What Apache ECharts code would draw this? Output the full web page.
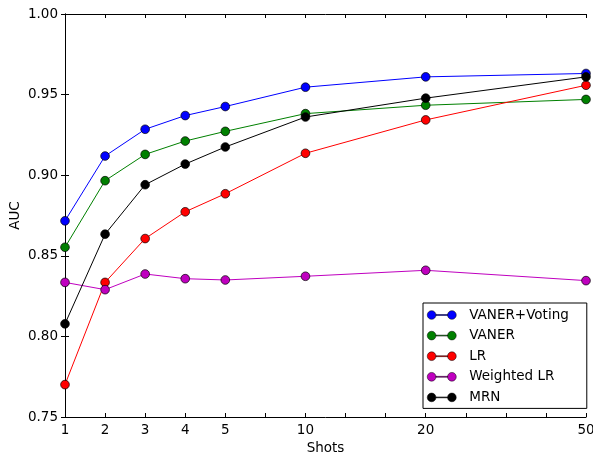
<!DOCTYPE html>
<html>
<head>
<meta charset="utf-8">
<script src="https://cdn.jsdelivr.net/npm/echarts@6/dist/echarts.min.js"></script>
<style>html,body{margin:0;padding:0;background:#fff}#c{width:593px;height:454px}</style>
</head>
<body>
<div id="c"></div>
<script>
// x tick labels (evenly spaced ticks; blanks are unlabeled ticks)
var xTickLabels = ['1','2','3','4','5','','10','','','20','','','','50'];
var shots = ['1','2','3','4','5','10','20','50'];
var yTicks = [0.75, 0.80, 0.85, 0.90, 0.95, 1.00];

var vanerVoting = [0.8717, 0.9119, 0.9285, 0.9370, 0.9426, 0.9546, 0.9610, 0.9631];
var vaner       = [0.8553, 0.8966, 0.9129, 0.9212, 0.9272, 0.9382, 0.9434, 0.9470];
var lr          = [0.7701, 0.8335, 0.8607, 0.8773, 0.8885, 0.9136, 0.9343, 0.9558];
var weightedLr  = [0.8335, 0.8290, 0.8387, 0.8358, 0.8350, 0.8373, 0.8410, 0.8346];
var mrn         = [0.8078, 0.8634, 0.8941, 0.9069, 0.9175, 0.9361, 0.9478, 0.9610];

var seriesDefs = [
  {name: 'VANER+Voting', data: vanerVoting, color: '#0000ff'},
  {name: 'VANER', data: vaner, color: '#008000'},
  {name: 'LR', data: lr, color: '#ff0000'},
  {name: 'Weighted LR', data: weightedLr, color: '#bf00bf'},
  {name: 'MRN', data: mrn, color: '#000000'}
];

function toPoints(vals) {
  return shots.map(function (s, i) { return [xTickLabels.indexOf(s), vals[i]]; });
}

var FONT = 'DejaVu Sans';
var iconPath = 'path://M0,4.35A4.35,4.35,0,1,1,8.7,4.35A4.35,4.35,0,1,1,0,4.35Z' +
  'M20.3,4.35A4.35,4.35,0,1,1,29,4.35A4.35,4.35,0,1,1,20.3,4.35Z' +
  'M8.7,3.9L20.3,3.9L20.3,4.8L8.7,4.8Z';

var chart = echarts.init(document.getElementById('c'), null, {renderer: 'canvas'});
var axisLine = {show: true, lineStyle: {color: '#000', width: 1}};
var tick = {show: true, inside: true, length: 4, lineStyle: {color: '#000', width: 1}};

chart.setOption({
  animation: false,
  backgroundColor: '#fff',
  textStyle: {fontFamily: FONT},
  grid: {left: 65, right: 7, top: 14, bottom: 37, containLabel: false, outerBoundsMode: 'none'},
  legend: {
    orient: 'vertical',
    left: 423,
    top: 303,
    padding: [5, 18, 4, 4],
    itemGap: 6.6,
    itemWidth: 29,
    itemHeight: 8.7,
    icon: iconPath,
    borderColor: '#000',
    borderWidth: 1,
    backgroundColor: '#fff',
    itemStyle: {borderColor: '#000', borderWidth: 0.5},
    textStyle: {fontFamily: FONT, fontSize: 13.5, color: '#000', lineHeight: 14, padding: [0, 0, 0, 8]},
    data: seriesDefs.map(function (d) { return d.name; })
  },
  xAxis: [{
    type: 'value', min: 0, max: xTickLabels.length - 1, interval: 1,
    name: 'Shots', nameLocation: 'middle', nameGap: 22,
    nameTextStyle: {fontFamily: FONT, fontSize: 13.5, color: '#000'},
    axisLine: axisLine, axisTick: tick, splitLine: {show: false},
    axisLabel: {color: '#000', fontFamily: FONT, fontSize: 13.5, margin: 6,
      formatter: function (v) { return xTickLabels[Math.round(v)] || ''; }}
  }, {
    type: 'value', position: 'top', min: 0, max: xTickLabels.length - 1, interval: 1,
    axisLine: axisLine, axisTick: tick, axisLabel: {show: false}, splitLine: {show: false}
  }],
  yAxis: [{
    type: 'value', min: yTicks[0], max: yTicks[yTicks.length - 1], interval: 0.05,
    name: 'AUC', nameLocation: 'middle', nameGap: 43, nameRotate: 90, nameMoveOverlap: false,
    nameTextStyle: {fontFamily: FONT, fontSize: 13.5, color: '#000'},
    axisLine: axisLine, axisTick: tick, splitLine: {show: false},
    axisLabel: {color: '#000', fontFamily: FONT, fontSize: 13.5, margin: 7,
      formatter: function (v) { return v.toFixed(2); }}
  }, {
    type: 'value', position: 'right', min: yTicks[0], max: yTicks[yTicks.length - 1], interval: 0.05,
    axisLine: axisLine, axisTick: tick, axisLabel: {show: false}, splitLine: {show: false}
  }],
  series: seriesDefs.map(function (d) {
    return {
      name: d.name, type: 'line', data: toPoints(d.data),
      symbol: 'circle', symbolSize: 8.7, showSymbol: true,
      lineStyle: {color: d.color, width: 1},
      itemStyle: {color: d.color, borderColor: '#000', borderWidth: 0.7},
      emphasis: {disabled: true},
      clip: false
    };
  })
});
</script>
</body>
</html>
